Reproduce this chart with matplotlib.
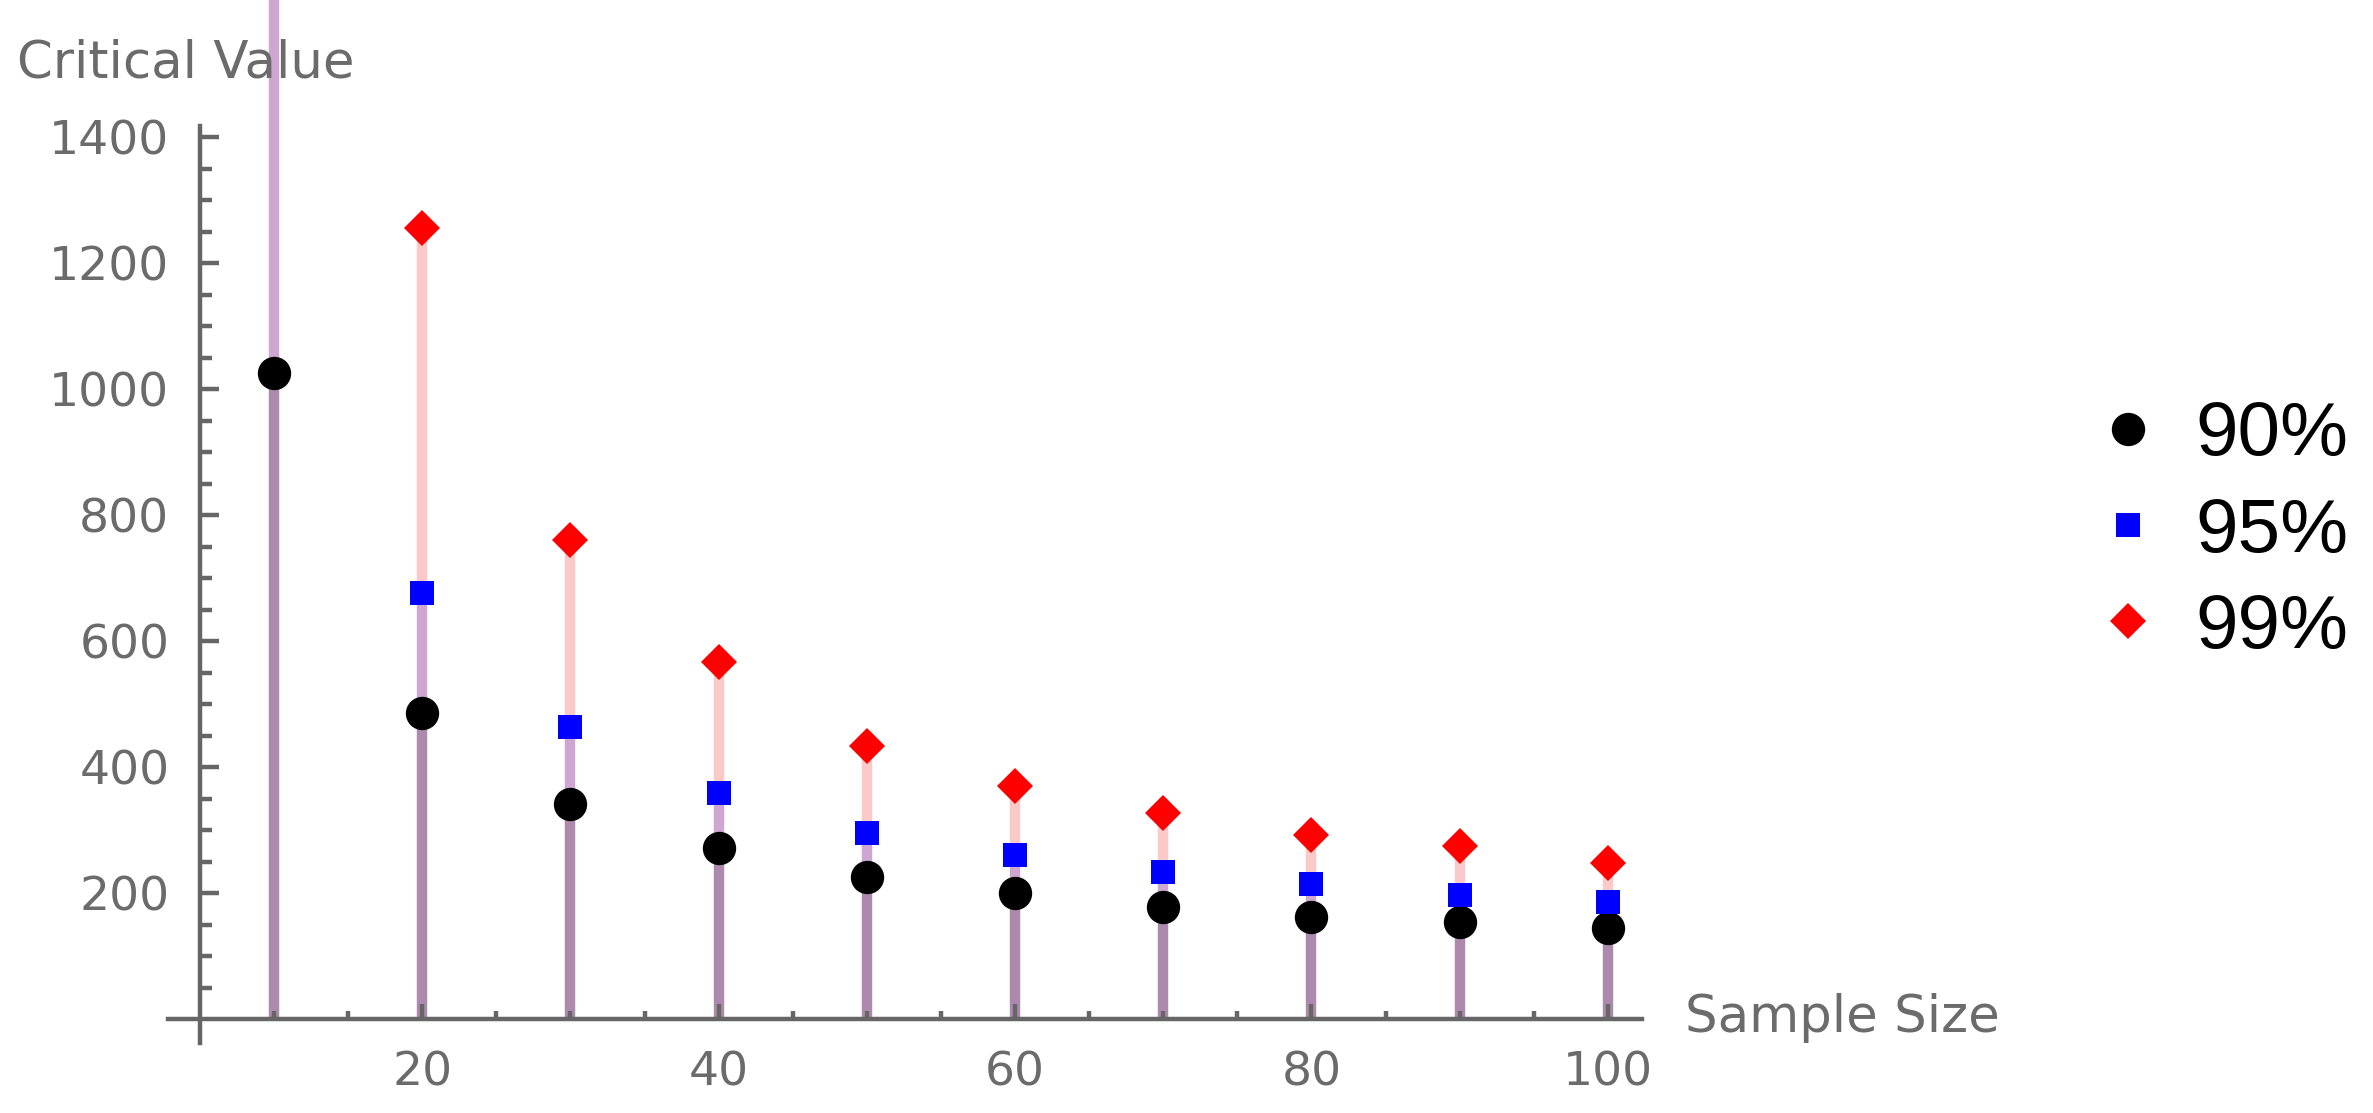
import matplotlib
matplotlib.use('Agg')
import matplotlib.pyplot as plt

# critical values (10 -> 95% / 99% are above the plot range)
sample_size = [10, 20, 30, 40, 50, 60, 70, 80, 90, 100]
crit_90 = [1025, 485, 342, 271, 226, 200, 178, 162, 154, 144]
crit_95 = [1950, 677, 464, 358, 295, 260, 234, 215, 197, 186]
crit_99 = [4500, 1256, 761, 566, 433, 370, 327, 292, 274, 247]
labels = ['90%', '95%', '99%']

axe_gris = '#666666'
texte_gris = '#6b6b6b'

fig = plt.figure(figsize=(23.73, 11.13), dpi=100)
ax = fig.add_axes([0, 0, 1, 1])
ax.set_xlim(-8.49, 151.63)
ax.set_ylim(-149.2, 1617.5)

# filling to the axis, as overlapping stems
ax.vlines(sample_size, 0, crit_90, colors='#ad8aad', lw=7.5, zorder=1)
ax.vlines(sample_size, crit_90, crit_95, colors='#cfa6d1', lw=7.5, zorder=1)
ax.vlines(sample_size, crit_95, crit_99, colors='#fcc9c9', lw=7.5, zorder=1)

ax.plot(sample_size, crit_90, 'o', color='black', ms=24, mew=0, zorder=3, label=labels[0])
ax.plot(sample_size, crit_95, 's', color='#0000ff', ms=17, mew=0, zorder=3, label=labels[1])
ax.plot(sample_size, crit_99, 'D', color='#ff0000', ms=18, mew=0, zorder=3, label=labels[2])

# axes crossing at (5, 0), Mathematica style
ax.spines['top'].set_visible(False)
ax.spines['right'].set_visible(False)
ax.spines['left'].set_position(('data', 5))
ax.spines['bottom'].set_position(('data', 0))
ax.spines['left'].set_bounds(-37.5, 1416.8)
ax.spines['bottom'].set_bounds(2.85, 102.3)
for s in ['left', 'bottom']:
    ax.spines[s].set_color(axe_gris)
    ax.spines[s].set_linewidth(3.2)

ax.set_xticks(list(range(20, 101, 20)))
ax.set_xticks([v for v in range(10, 101, 5) if v % 20 != 0], minor=True)
ax.set_yticks(list(range(200, 1401, 200)))
ax.set_yticks([v for v in range(50, 1401, 50) if v % 200 != 0], minor=True)

ax.tick_params(axis='x', which='major', direction='in', length=11, width=3.2, color=axe_gris,
               pad=23, labelsize=34, labelcolor=texte_gris)
ax.tick_params(axis='x', which='minor', direction='in', length=5.5, width=3.2, color=axe_gris)
ax.tick_params(axis='y', which='major', direction='in', length=13.7, width=3.2, color=axe_gris,
               pad=22, labelsize=34, labelcolor=texte_gris)
ax.tick_params(axis='y', which='minor', direction='in', length=8.5, width=3.2, color=axe_gris)

fig.text(17 / 2373, 1 - 77 / 1113, 'Critical Value', fontsize=37, color=texte_gris, va='baseline', ha='left')
fig.text(1685 / 2373, 1 - 1032 / 1113, 'Sample Size', fontsize=37, color=texte_gris, va='baseline', ha='left')

ax.legend(loc='center left', bbox_to_anchor=(0.8807, 0.522), bbox_transform=fig.transFigure,
          frameon=False, prop={'family': 'Liberation Sans', 'size': 55}, handlelength=1.0,
          handletextpad=0.38, borderpad=0, borderaxespad=0, labelspacing=0.33)

plt.savefig('out.png', dpi=100)
